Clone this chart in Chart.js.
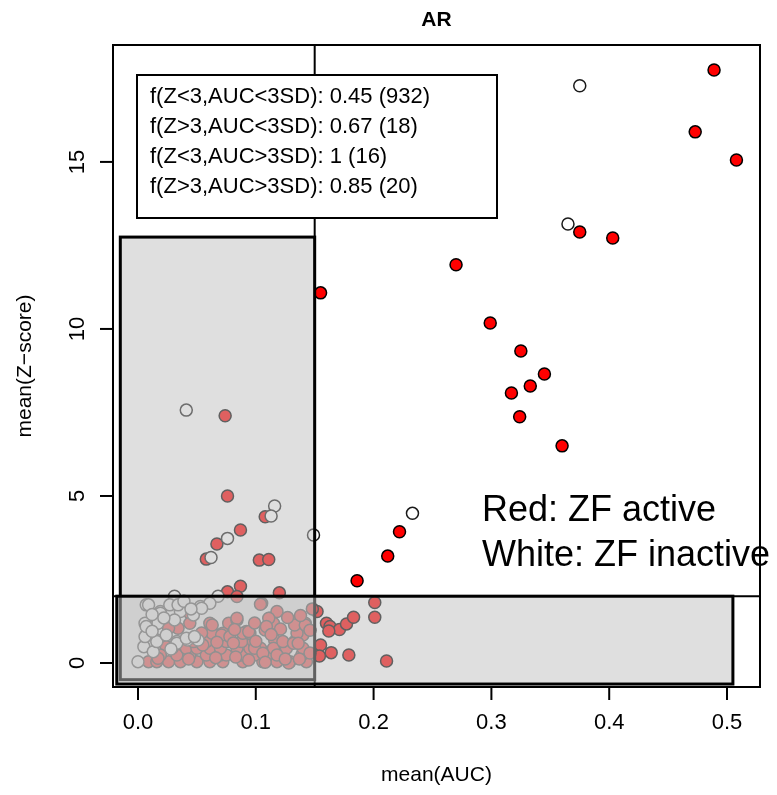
<!DOCTYPE html>
<html lang="en">
<head>
<meta charset="UTF-8">
<title>AR</title>
<script src="https://cdn.jsdelivr.net/npm/chart.js"></script>
<style>
  html, body { margin: 0; padding: 0; background: #fff; }
  #wrap { position: relative; width: 777px; height: 795px; }
</style>
</head>
<body>
<div id="wrap"><canvas id="grafico"></canvas></div>
<script>
// textos
const chartTitle = 'AR';
const xTitle = 'mean(AUC)';
const yTitle = 'mean(Z\u2212score)';
const xTicks = [0, 0.1, 0.2, 0.3, 0.4, 0.5];
const xTickLabels = ['0.0', '0.1', '0.2', '0.3', '0.4', '0.5'];
const yTicks = [0, 5, 10, 15];
const yTickLabels = ['0', '5', '10', '15'];
const legendLines = [
  'f(Z<3,AUC<3SD): 0.45 (932)',
  'f(Z>3,AUC<3SD): 0.67 (18)',
  'f(Z<3,AUC>3SD): 1 (16)',
  'f(Z>3,AUC>3SD): 0.85 (20)'
];
const noteLines = ['Red: ZF active', 'White: ZF inactive'];

// umbrales y cajas [xmin, ymin, xmax, ymax] en unidades de datos
const aucCut = 0.15;
const zCut = 2;
const tallBox = [-0.015, -0.5, 0.15, 12.75];
const wideBox = [-0.018, -0.63, 0.505, 2];

// puntos [mean(AUC), mean(Z-score)]
const inactivePoints = [
  [0.375, 17.28], [0.365, 13.14], [0.041, 7.57], [0.116, 4.7], [0.113, 4.4], [0.233, 4.48],
  [0.149, 3.83], [0.076, 3.73], [0.062, 3.16], [0.031, 2.0], [0.068, 2.0],
  [0.007, 1.74], [0.019, 1.54], [0.027, 1.74], [0.036, 1.54], [0.006, 1.19], [0.016, 1.19],
  [0.007, 0.84], [0.016, 0.69], [0.033, 0.64], [0.042, 0.69], [0.051, 0.69], [0.000, 0.04],
  [0.053, 1.69], [0.061, 1.79], [0.047, 1.44], [0.005, 0.49], [0.013, 0.34], [0.009, 1.74],
  [0.019, 1.49], [0.017, 1.19], [0.006, 0.79], [0.016, 0.64], [0.033, 0.59], [0.007, 1.09],
  [0.031, 1.29], [0.024, 0.84], [0.034, 1.74], [0.054, 1.64], [0.041, 0.74], [0.048, 0.79],
  [0.012, 1.45], [0.022, 1.35], [0.039, 1.85], [0.045, 1.62], [0.012, 0.95], [0.028, 0.42]
];
const activePoints = [
  [0.489, 17.75], [0.473, 15.9], [0.508, 15.06], [0.375, 12.9], [0.403, 12.72], [0.27, 11.92],
  [0.155, 11.08], [0.299, 10.18], [0.325, 9.34], [0.333, 8.29], [0.317, 8.08], [0.345, 8.65],
  [0.324, 7.37], [0.36, 6.5], [0.074, 7.4], [0.076, 5.0], [0.087, 3.98], [0.067, 3.56],
  [0.058, 3.11], [0.108, 4.38], [0.103, 3.08], [0.111, 3.1], [0.222, 3.93], [0.212, 3.2],
  [0.186, 2.46], [0.087, 2.3], [0.076, 2.13], [0.12, 2.1], [0.084, 1.99],
  [0.152, 1.54], [0.16, 1.19], [0.163, 1.09], [0.171, 1.0], [0.177, 1.17], [0.183, 1.37],
  [0.201, 1.81], [0.201, 1.37], [0.155, 0.54], [0.164, 0.31], [0.179, 0.24], [0.211, 0.06],
  [0.154, 0.21], [0.162, 0.96],
  [0.03, 1.24], [0.044, 1.49], [0.044, 1.19], [0.061, 1.19], [0.07, 0.84], [0.077, 1.19],
  [0.084, 1.29], [0.092, 0.94], [0.105, 1.79], [0.112, 1.34], [0.118, 1.54], [0.115, 1.19],
  [0.108, 0.99], [0.116, 0.69], [0.133, 1.19], [0.142, 1.19], [0.14, 0.84], [0.133, 0.64],
  [0.024, 0.49],
  [0.009, 0.04], [0.016, 0.04], [0.026, 0.04], [0.036, 0.04], [0.05, 0.04], [0.061, 0.04],
  [0.072, 0.04], [0.089, 0.04], [0.106, 0.04], [0.118, 0.04], [0.129, 0.04], [0.143, 0.04],
  [0.019, 0.24], [0.033, 0.24], [0.044, 0.24], [0.058, 0.24], [0.07, 0.24], [0.075, 0.24],
  [0.088, 0.24], [0.099, 0.24], [0.109, 0.24], [0.123, 0.24], [0.139, 0.24],
  [0.029, 0.44], [0.041, 0.44], [0.05, 0.44], [0.061, 0.44], [0.07, 0.44], [0.084, 0.44],
  [0.095, 0.44], [0.104, 0.44], [0.115, 0.44], [0.126, 0.44], [0.14, 0.44],
  [0.047, 0.64], [0.058, 0.64], [0.075, 0.64], [0.088, 0.64], [0.098, 0.64], [0.123, 0.64],
  [0.063, 0.89], [0.072, 0.89], [0.089, 0.89], [0.095, 0.89], [0.135, 0.89],
  [0.104, 1.76], [0.111, 1.34], [0.109, 1.09], [0.133, 1.14], [0.142, 1.14], [0.132, 0.59],
  [0.094, 0.94], [0.099, 0.44], [0.106, 0.29], [0.118, 0.24], [0.128, 0.0], [0.094, 0.09],
  [0.108, 0.02], [0.136, 0.59], [0.063, 1.14], [0.084, 1.34], [0.071, 0.84], [0.078, 0.79],
  [0.055, 0.54], [0.017, 0.14], [0.034, 1.04], [0.026, 1.04],
  [0.121, 1.02], [0.127, 1.36], [0.138, 1.42], [0.146, 0.98], [0.146, 0.3], [0.099, 1.2],
  [0.081, 0.6], [0.067, 0.62], [0.054, 0.9], [0.082, 1.0], [0.113, 0.85], [0.125, 0.12],
  [0.1, 0.65], [0.066, 0.16], [0.083, 0.18], [0.137, 0.12], [0.043, 0.12], [0.148, 1.62]
];

const FONT = '"Liberation Sans", Arial, sans-serif';

function caja(ctx, xs, ys, b) {
  const x0 = xs.getPixelForValue(b[0]), x1 = xs.getPixelForValue(b[2]);
  const y0 = ys.getPixelForValue(b[3]), y1 = ys.getPixelForValue(b[1]);
  ctx.fillStyle = 'rgba(192,192,192,0.5)';
  ctx.fillRect(x0, y0, x1 - x0, y1 - y0);
  ctx.strokeStyle = '#000';
  ctx.lineWidth = 3;
  ctx.strokeRect(x0, y0, x1 - x0, y1 - y0);
}

// cajas, lineas de corte, leyenda y ejes estilo R
const decoracion = {
  id: 'decoracion',
  afterDatasetsDraw(chart) {
    const { ctx, chartArea: a, scales: { x, y } } = chart;
    ctx.save();
    // lineas de corte
    ctx.strokeStyle = '#000';
    ctx.lineWidth = 2;
    const xc = x.getPixelForValue(aucCut), yc = y.getPixelForValue(zCut);
    ctx.beginPath();
    ctx.moveTo(xc, a.top); ctx.lineTo(xc, a.bottom);
    ctx.moveTo(a.left, yc); ctx.lineTo(a.right, yc);
    ctx.stroke();
    caja(ctx, x, y, tallBox);
    caja(ctx, x, y, wideBox);

    // leyenda
    const lx = a.left + 24, ly = a.top + 30, lw = 360, lh = 143;
    ctx.fillStyle = '#fff';
    ctx.fillRect(lx, ly, lw, lh);
    ctx.lineWidth = 2;
    ctx.strokeStyle = '#000';
    ctx.strokeRect(lx, ly, lw, lh);
    ctx.fillStyle = '#000';
    ctx.font = '22px ' + FONT;
    ctx.textAlign = 'left';
    ctx.textBaseline = 'middle';
    legendLines.forEach((t, i) => ctx.fillText(t, lx + 13, ly + 22 + i * 30));

    // nota
    ctx.font = '36px ' + FONT;
    ctx.textBaseline = 'alphabetic';
    noteLines.forEach((t, i) => ctx.fillText(t, 482, 521 + i * 45));
    ctx.restore();
  },
  afterDraw(chart) {
    const { ctx, chartArea: a, scales: { x, y } } = chart;
    ctx.save();
    ctx.strokeStyle = '#000';
    ctx.lineWidth = 2;
    ctx.strokeRect(a.left, a.top, a.right - a.left, a.bottom - a.top);
    ctx.fillStyle = '#000';
    ctx.font = '22px ' + FONT;
    ctx.textAlign = 'center';
    ctx.textBaseline = 'middle';
    xTicks.forEach((v, i) => {
      const px = x.getPixelForValue(v);
      ctx.beginPath(); ctx.moveTo(px, a.bottom); ctx.lineTo(px, a.bottom + 13); ctx.stroke();
      ctx.fillText(xTickLabels[i], px, a.bottom + 36);
    });
    yTicks.forEach((v, i) => {
      const py = y.getPixelForValue(v);
      ctx.beginPath(); ctx.moveTo(a.left, py); ctx.lineTo(a.left - 13, py); ctx.stroke();
      ctx.save();
      ctx.translate(a.left - 35, py);
      ctx.rotate(-Math.PI / 2);
      ctx.fillText(yTickLabels[i], 0, 0);
      ctx.restore();
    });
    // titulos
    const cx = (a.left + a.right) / 2, cy = (a.top + a.bottom) / 2;
    ctx.font = '21px ' + FONT;
    ctx.fillText(xTitle, cx, a.bottom + 88);
    ctx.save();
    ctx.translate(25, cy);
    ctx.rotate(-Math.PI / 2);
    ctx.fillText(yTitle, 0, 0);
    ctx.restore();
    ctx.font = 'bold 21px ' + FONT;
    ctx.fillText(chartTitle, cx, 20);
    ctx.restore();
  }
};

const punto = { radius: 6, borderWidth: 1.5, hoverRadius: 6 };

new Chart(document.getElementById('grafico'), {
  type: 'scatter',
  data: {
    datasets: [
      {
        label: 'ZF inactive',
        data: inactivePoints.map(p => ({ x: p[0], y: p[1] })),
        backgroundColor: '#ffffff',
        borderColor: '#1a1a1a',
        pointRadius: punto.radius,
        pointBorderWidth: punto.borderWidth,
        pointHoverRadius: punto.hoverRadius
      },
      {
        label: 'ZF active',
        data: activePoints.map(p => ({ x: p[0], y: p[1] })),
        backgroundColor: '#ff0000',
        borderColor: '#000000',
        pointRadius: punto.radius,
        pointBorderWidth: punto.borderWidth,
        pointHoverRadius: punto.hoverRadius
      }
    ]
  },
  options: {
    responsive: true,
    maintainAspectRatio: false,
    animation: false,
    layout: { padding: { left: 113, top: 45, right: 17, bottom: 108 } },
    plugins: { legend: { display: false }, tooltip: { enabled: false } },
    scales: {
      x: { type: 'linear', display: false, min: -0.0212, max: 0.528 },
      y: { type: 'linear', display: false, min: -0.7186, max: 18.5 }
    }
  },
  plugins: [decoracion]
});
</script>
</body>
</html>
